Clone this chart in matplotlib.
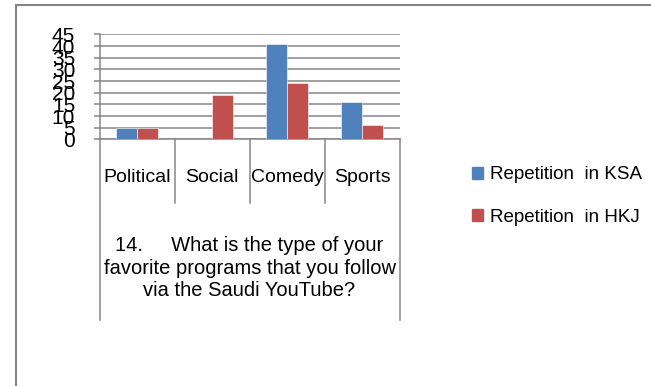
import matplotlib
matplotlib.use("Agg")
from matplotlib import pyplot as plt, transforms
from matplotlib.patches import Rectangle

categories = ["Political", "Social", "Comedy", "Sports"]
ksa = [5, 0, 41, 16]
hkj = [5, 19, 24, 6]
series_names = ["Repetition  in KSA", "Repetition  in HKJ"]
question = "14.     What is the type of your\nfavorite programs that you follow\nvia the Saudi YouTube?"

W, H = 651, 386
plt.rcParams["font.family"] = ["Liberation Sans", "DejaVu Sans"]
fig = plt.figure(figsize=(W / 100, H / 100), dpi=100)

# plot area in pixel coords -> figure fractions
left, right, top, bottom = 99.5, 399.5, 34.5, 139.5
ax = fig.add_axes([left / W, 1 - bottom / H, (right - left) / W, (bottom - top) / H])

grid = "#868686"
blue = "#4F81BD"
red = "#C0504D"
x = range(len(categories))
bw = 0.28
ax.bar([i - bw / 2 for i in x], ksa, bw, color=blue, edgecolor="white", linewidth=0.4, zorder=3)
ax.bar([i + bw / 2 for i in x], hkj, bw, color=red, edgecolor="white", linewidth=0.4, zorder=3)

ax.set_xlim(-0.5, 3.5)
ax.set_ylim(0, 45)
ax.set_yticks(range(0, 46, 5))
ax.set_yticklabels([str(v) for v in range(0, 46, 5)], fontsize=15,
                   family=["Liberation Sans Narrow", "Liberation Sans"])
ax.tick_params(axis="y", length=4.5, width=1.1, color=grid, pad=13)
ax.set_xticks([])
ax.grid(axis="y", color=grid, linewidth=1.1, zorder=0)
for s in ["top", "right"]:
    ax.spines[s].set_visible(False)
for s in ["left", "bottom"]:
    ax.spines[s].set_color(grid)
    ax.spines[s].set_linewidth(1.1)

# two-level category axis: separators and boxed question text
bt = transforms.blended_transform_factory(ax.transData, fig.transFigure)
y0 = 1 - bottom / H
for xs in [0.5, 1.5, 2.5]:
    ax.plot([xs, xs], [y0, 1 - 203 / H], color=grid, lw=1.1, transform=bt, clip_on=False)
for xs in [-0.5, 3.5]:
    ax.plot([xs, xs], [y0, 1 - 320 / H], color=grid, lw=1.1, transform=bt, clip_on=False)
for i, c in enumerate(categories):
    ax.text(i, 1 - 177 / H, c, transform=bt, ha="center", va="center", fontsize=14)
ax.text(1.5, 1 - 268 / H, question, transform=bt, ha="center", va="center",
        fontsize=14.5, linespacing=1.25)

handles = [Rectangle((0, 0), 1, 1, color=blue), Rectangle((0, 0), 1, 1, color=red)]
fig.legend(handles, series_names, loc="center left", bbox_to_anchor=(455 / W, 1 - 196 / H),
           frameon=False, fontsize=13.5, handlelength=0.6, handleheight=0.6,
           handletextpad=0.35, labelspacing=1.35)

# chart border
fig.add_artist(Rectangle((15.5 / W, -0.1), 1, 1.1 - 4.5 / H, transform=fig.transFigure,
                         fill=False, edgecolor=grid, lw=1.5))

fig.savefig("out.png", dpi=100)
